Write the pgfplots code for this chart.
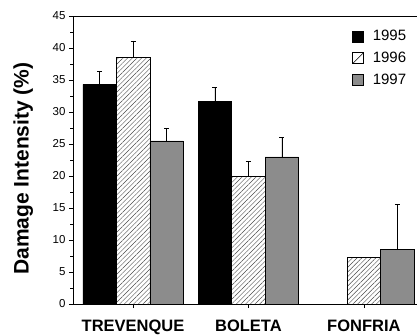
\documentclass[border=0pt]{standalone}
\usepackage{fontspec}
\setmainfont{Liberation Sans}
\usepackage{pgfplots}
\pgfplotsset{compat=1.18}
\usetikzlibrary{patterns.meta}
\definecolor{bargray}{RGB}{140,140,140}
\begin{document}
\begin{tikzpicture}
\begin{axis}[
  scale only axis, width=344pt, height=288pt,
  xmin=-0.52, xmax=2.46, ymin=0, ymax=45,
  axis lines=left, axis line style={-, line width=0.6pt},
  /pgf/number format/assume math mode=true,
  ytick={0,5,...,45}, minor y tick num=1,
  tick align=outside, major tick length=4pt, minor tick length=2.5pt,
  tick style={line width=0.5pt, black},
  xtick={0,1,2}, xticklabels={TREVENQUE,BOLETA,FONFRIA},
  xticklabel style={font=\fontsize{16.5}{18}\selectfont\bfseries, yshift=-8pt},
  yticklabel style={font=\fontsize{11.5}{12}\selectfont},
  ylabel={Damage Intensity (\%)},
  ylabel style={font=\fontsize{21}{24}\selectfont\bfseries, at={(rel axis cs:-0.145,0.47)}, anchor=center},
  ybar, bar width=0.29, clip=false,
  legend style={at={(0.811,0.958)}, anchor=north west, draw=none, fill=none,
    font=\fontsize{15}{16}\selectfont, row sep=6pt, inner sep=0pt,
    /tikz/every odd column/.append style={column sep=7pt}},
  legend cell align=left,
  error bars/y dir=plus, error bars/y explicit, error bars/error mark=-,
  error bars/error mark options={rotate=90, mark size=2.5pt, line width=0.6pt, black},
  error bars/error bar style={line width=0.6pt, black},
]
\addplot[forget plot, bar shift=0pt, fill=black, draw=black, line width=0.5pt]
  coordinates {(-0.29,34.3) +- (0,2.1) (0.71,31.7) +- (0,2.2)};
\addplot[forget plot, bar shift=0pt, fill=white, draw=black, line width=0.5pt,
  postaction={pattern={Lines[angle=45,distance=3.3pt,line width=0.45pt]}, pattern color=black!70}]
  coordinates {(0,38.5) +- (0,2.6) (1,20.0) +- (0,2.3) (2,7.3) +- (0,0)};
\addplot[forget plot, bar shift=0pt, fill=bargray, draw=black, line width=0.5pt]
  coordinates {(0.29,25.5) +- (0,2.0) (1.29,23.0) +- (0,3.0) (2.29,8.5) +- (0,7.1)};
\addlegendimage{legend image code/.code={\draw[fill=black,draw=black,line width=0.5pt] (0pt,-5.5pt) rectangle (11pt,5.5pt);}}
\addlegendentry{1995}
\addlegendimage{legend image code/.code={\draw[fill=white,draw=black,line width=0.6pt] (0pt,-5.5pt) rectangle (11pt,5.5pt); \draw[line width=0.6pt] (0pt,-5.5pt) -- (11pt,5.5pt);}}
\addlegendentry{1996}
\addlegendimage{legend image code/.code={\draw[fill=bargray,draw=black,line width=0.5pt] (0pt,-5.5pt) rectangle (11pt,5.5pt);}}
\addlegendentry{1997}
\draw[line width=0.6pt] (rel axis cs:0,1) -- (rel axis cs:1,1);
\end{axis}
\pgfresetboundingbox
\path ([xshift=-73pt,yshift=-31pt]current axis.south west) rectangle ([yshift=16pt]current axis.north east);
\end{tikzpicture}
\end{document}
